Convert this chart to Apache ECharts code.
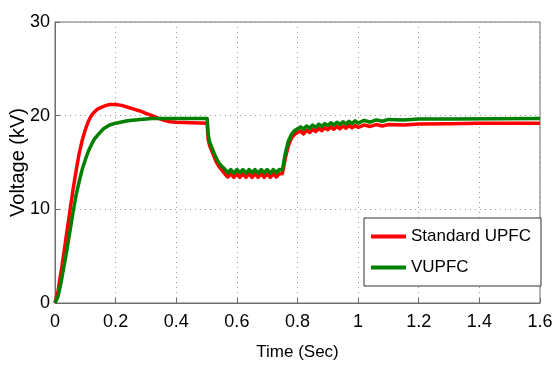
<!DOCTYPE html>
<html>
<head>
<meta charset="utf-8">
<script src="https://cdn.jsdelivr.net/npm/echarts@6/dist/echarts.min.js"></script>
<style>
  html, body { margin: 0; padding: 0; background: #fff; }
  #chart { width: 552px; height: 365px; }
</style>
</head>
<body>
<div id="chart"></div>
<script>
// time (s) and voltage (kV) (ripple included where visible)
const stdTime = [0, 0.01, 0.02, 0.03, 0.04, 0.05, 0.06, 0.07, 0.08, 0.09, 0.1, 0.11, 0.12, 0.13, 0.14, 0.16, 0.18, 0.2, 0.22, 0.24, 0.26, 0.28, 0.3, 0.32, 0.34, 0.36, 0.38, 0.4, 0.45, 0.502,
  0.505, 0.51, 0.52, 0.53, 0.54, 0.55, 0.56, 0.57, 0.58, 0.59, 0.6, 0.61, 0.62, 0.63, 0.64, 0.65, 0.66, 0.67, 0.68, 0.69, 0.7, 0.71, 0.72, 0.73, 0.74,
  0.75, 0.76, 0.77, 0.78, 0.79, 0.8, 0.81, 0.82, 0.83, 0.84, 0.85, 0.86, 0.87, 0.88, 0.89, 0.9, 0.91, 0.92, 0.93, 0.94, 0.95, 0.96, 0.97, 0.98, 0.99, 1.0,
  1.02, 1.04, 1.06, 1.08, 1.1, 1.15, 1.2, 1.3, 1.4, 1.6];
const stdVolt = [0, 1.3, 3.3, 5.5, 7.8, 10.0, 12.2, 14.2, 16.0, 17.4, 18.5, 19.4, 20.0, 20.4, 20.7, 21.0, 21.2, 21.2, 21.1, 20.9, 20.7, 20.5, 20.25, 20.0, 19.75, 19.5, 19.35, 19.3, 19.25, 19.2,
  17.5, 16.8, 16.0, 15.2, 14.6, 14.2, 13.8, 13.45, 13.8, 13.4, 13.8, 13.4, 13.8, 13.4, 13.8, 13.4, 13.8, 13.4, 13.8, 13.4, 13.8, 13.4, 13.8, 13.45, 13.8,
  13.8, 15.5, 16.8, 17.6, 18.0, 18.2, 18.35, 18.05, 18.45, 18.2, 18.55, 18.3, 18.65, 18.4, 18.7, 18.5, 18.8, 18.55, 18.85, 18.6, 18.9, 18.65, 18.95, 18.7, 18.95, 18.75,
  19.0, 18.85, 19.05, 18.9, 19.05, 19.0, 19.1, 19.15, 19.2, 19.2];

const vTime = [0, 0.01, 0.02, 0.03, 0.04, 0.05, 0.06, 0.07, 0.08, 0.09, 0.1, 0.11, 0.12, 0.13, 0.14, 0.16, 0.18, 0.2, 0.24, 0.28, 0.32, 0.36, 0.45, 0.502,
  0.505, 0.51, 0.52, 0.53, 0.54, 0.55, 0.56, 0.57, 0.58, 0.59, 0.6, 0.61, 0.62, 0.63, 0.64, 0.65, 0.66, 0.67, 0.68, 0.69, 0.7, 0.71, 0.72, 0.73, 0.74,
  0.75, 0.76, 0.77, 0.78, 0.79, 0.8, 0.81, 0.82, 0.83, 0.84, 0.85, 0.86, 0.87, 0.88, 0.89, 0.9, 0.91, 0.92, 0.93, 0.94, 0.95, 0.96, 0.97, 0.98, 0.99, 1.0,
  1.02, 1.04, 1.06, 1.08, 1.1, 1.15, 1.2, 1.3, 1.6];
const vVolt = [0, 0.7, 2.2, 4.0, 5.8, 7.8, 9.8, 11.6, 13.0, 14.3, 15.3, 16.2, 16.9, 17.5, 17.9, 18.6, 19.0, 19.2, 19.45, 19.6, 19.7, 19.7, 19.7, 19.7,
  18.0, 17.2, 16.4, 15.6, 15.0, 14.6, 14.3, 13.9, 14.25, 13.85, 14.25, 13.9, 14.25, 13.85, 14.25, 13.9, 14.25, 13.85, 14.25, 13.9, 14.25, 13.85, 14.25, 13.9, 14.25,
  14.2, 16.0, 17.3, 18.0, 18.4, 18.6, 18.8, 18.55, 18.9, 18.65, 19.0, 18.75, 19.1, 18.85, 19.15, 18.95, 19.25, 19.0, 19.3, 19.05, 19.35, 19.1, 19.4, 19.15, 19.45, 19.2,
  19.5, 19.3, 19.55, 19.4, 19.6, 19.55, 19.65, 19.65, 19.7];

const seriesNames = ["Standard UPFC", "VUPFC"];
const xTicks = [0, 0.2, 0.4, 0.6, 0.8, 1, 1.2, 1.4, 1.6];
const yTicks = [0, 10, 20, 30];

const font = "'Liberation Sans', Arial, sans-serif";

const chart = echarts.init(document.getElementById("chart"));

const pair = (t, v) => t.map((x, i) => [x, v[i]]);

chart.setOption({
  animation: false,
  backgroundColor: "#fff",
  grid: {
    left: 55, right: 12, top: 22, bottom: 62,
    outerBoundsMode: "none",
    containLabel: false,
    show: true, borderColor: "#6e6e6e", borderWidth: 1,
  },
  xAxis: {
    type: "value",
    min: 0, max: 1.6, interval: 0.2,
    name: "Time (Sec)",
    nameLocation: "middle",
    nameGap: 41,
    nameMoveOverlap: false,
    nameTextStyle: { color: "#000", fontSize: 17, fontFamily: font },
    axisLine: { lineStyle: { color: "#6e6e6e" } },
    axisTick: { inside: true, length: 5, lineStyle: { color: "#6e6e6e" }, customValues: xTicks },
    axisLabel: { color: "#000", fontSize: 18, fontFamily: font, margin: 10, customValues: xTicks, formatter: v => String(v) },
    splitLine: { show: true, lineStyle: { color: "#9a9a9a", type: [1, 4] } },
  },
  yAxis: {
    type: "value",
    min: 0, max: 30, interval: 10,
    name: "Voltage (kV)",
    nameLocation: "middle",
    nameGap: 27,
    nameMoveOverlap: false,
    nameTextStyle: { color: "#000", fontSize: 20, fontFamily: font },
    axisLine: { show: true, lineStyle: { color: "#6e6e6e" } },
    axisTick: { show: true, inside: true, length: 5, lineStyle: { color: "#6e6e6e" }, customValues: yTicks },
    axisLabel: { color: "#000", fontSize: 18, fontFamily: font, margin: 5, customValues: yTicks },
    splitLine: { show: true, lineStyle: { color: "#9a9a9a", type: [1, 4] } },
  },
  legend: {
    left: 364, top: 218,
    orient: "vertical",
    icon: "rect",
    itemWidth: 35, itemHeight: 4, itemGap: 14,
    padding: [10, 10, 10, 7],
    borderColor: "#333", borderWidth: 1,
    backgroundColor: "#fff",
    textStyle: { color: "#000", fontSize: 17, fontFamily: font },
    data: seriesNames,
  },
  series: [
    {
      name: seriesNames[0], type: "line", showSymbol: false, smooth: false,
      data: pair(stdTime, stdVolt),
      lineStyle: { color: "#ff0000", width: 3.5, join: "round" }, itemStyle: { color: "#ff0000" }, z: 2,
    },
    {
      name: seriesNames[1], type: "line", showSymbol: false, smooth: false,
      data: pair(vTime, vVolt),
      lineStyle: { color: "#008000", width: 3.5, join: "round" }, itemStyle: { color: "#008000" }, z: 3,
    },
  ],
});
</script>
</body>
</html>
